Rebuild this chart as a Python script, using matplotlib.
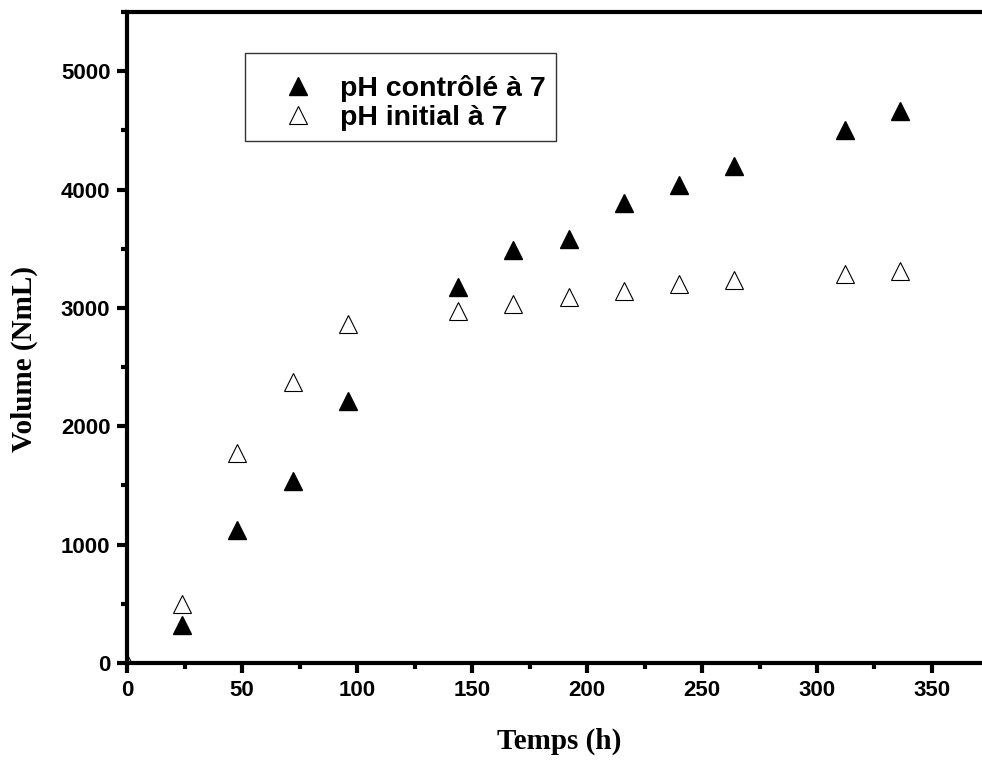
import matplotlib
matplotlib.use("Agg")
import matplotlib.pyplot as plt
from matplotlib.ticker import MultipleLocator

t_ctrl = [24, 48, 72, 96, 144, 168, 192, 216, 240, 264, 312, 336]
v_ctrl = [320, 1120, 1535, 2215, 3180, 3490, 3585, 3890, 4035, 4195, 4500, 4660]
t_init = [0, 24, 48, 72, 96, 144, 168, 192, 216, 240, 264, 312, 336]
v_init = [0, 500, 1775, 2370, 2868, 2978, 3037, 3088, 3147, 3198, 3240, 3283, 3316]
lab_ctrl = "pH contrôlé à 7"
lab_init = "pH initial à 7"

fig = plt.figure(figsize=(9.82, 7.61), dpi=100)
ax = fig.add_axes([127/982, 98/761, (375*2.3)/982, (749-98)/761])
ax.plot(t_ctrl, v_ctrl, linestyle="none", marker="^", markersize=13,
        color="black", label=lab_ctrl, zorder=2)
ax.plot(t_init, v_init, linestyle="none", marker="^", markersize=13,
        markerfacecolor="white", markeredgecolor="black", markeredgewidth=0.8,
        label=lab_init, zorder=2)
ax.set_xlim(0, 375)
ax.set_ylim(0, 5500)
ax.xaxis.set_major_locator(MultipleLocator(50))
ax.xaxis.set_minor_locator(MultipleLocator(25))
ax.yaxis.set_major_locator(MultipleLocator(1000))
ax.yaxis.set_minor_locator(MultipleLocator(500))
for s in ax.spines.values():
    s.set_linewidth(3)
    s.set_zorder(3)
ax.tick_params(which="major", direction="out", length=7, width=3, pad=5)
ax.tick_params(which="minor", direction="out", length=4, width=3)
ax.tick_params(top=False, right=False, which="both")
for lbl in ax.get_xticklabels() + ax.get_yticklabels():
    lbl.set_fontfamily("Liberation Sans")
    lbl.set_fontweight("bold")
    lbl.set_fontsize(16)
ax.set_xlabel("Temps (h)", fontfamily="Liberation Serif", fontweight="bold",
              fontsize=21)
ax.set_ylabel("Volume (NmL)", fontfamily="Liberation Serif", fontweight="bold",
              fontsize=21)
ax.xaxis.set_label_coords(559/982, 1 - 741/761, transform=fig.transFigure)
ax.xaxis.label.set_va("center")
ax.yaxis.set_label_coords(24/982, 1 - 359/761, transform=fig.transFigure)
ax.yaxis.label.set_va("center")
leg = ax.legend(loc="upper left", bbox_to_anchor=(245/982, 1 - 53/761),
                bbox_transform=fig.transFigure, title=" ", title_fontsize=6,
                frameon=True, fancybox=False, edgecolor="black", markerscale=1.0,
                prop={"family": "Liberation Sans", "weight": "bold", "size": 20.5},
                handlelength=3.0, handletextpad=0.0, borderpad=0.35,
                labelspacing=0.1, borderaxespad=0)
leg.get_frame().set_linewidth(1.0)
fig.savefig("out.png", dpi=100)
